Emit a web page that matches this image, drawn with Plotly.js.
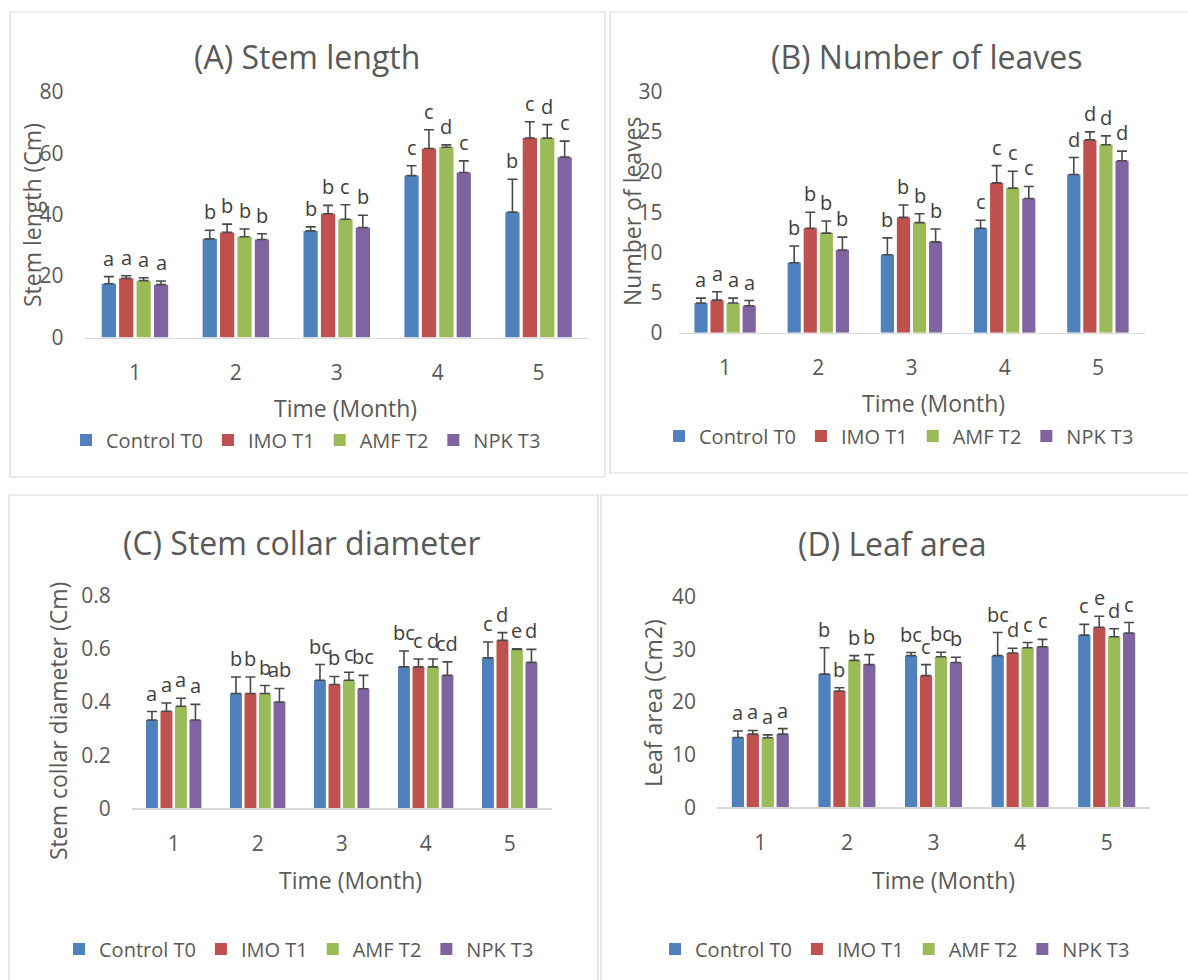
<!DOCTYPE html>
<html><head><meta charset="utf-8">
<script src="https://cdn.plot.ly/plotly-3.0.1.min.js"></script>
<style>html,body{margin:0;padding:0;background:#fff}#chart{width:1188px;height:980px}</style>
</head><body><div id="chart"></div>
<script>
// ---------- data ----------
const months = [1, 2, 3, 4, 5];
const seriesNames = ['Control T0', 'IMO T1', 'AMF T2', 'NPK T3'];

// (A) Stem length (Cm): means, SD, letters
const stemControl = [17.5, 32.1, 34.7, 52.7, 40.8];
const stemIMO     = [19.25, 34.2, 40.3, 61.5, 64.9];
const stemAMF     = [18.5, 32.8, 38.5, 61.9, 64.9];
const stemNPK     = [17.2, 31.9, 35.8, 53.7, 58.7];
const stemControlSd = [2.3, 2.8, 1.3, 3.2, 10.7];
const stemIMOSd     = [0.85, 2.7, 2.7, 6.1, 5.3];
const stemAMFSd     = [0.95, 2.5, 4.7, 0.8, 4.4];
const stemNPKSd     = [1.2, 1.85, 4.0, 3.8, 5.2];
const stemControlLet = ['a', 'b', 'b', 'c', 'b'];
const stemIMOLet     = ['a', 'b', 'b', 'c', 'c'];
const stemAMFLet     = ['a', 'b', 'c', 'd', 'd'];
const stemNPKLet     = ['a', 'b', 'b', 'c', 'c'];

// (B) Number of leaves
const leavesControl = [3.7, 8.7, 9.7, 13.0, 19.7];
const leavesIMO     = [4.05, 13.0, 14.35, 18.65, 24.0];
const leavesAMF     = [3.7, 12.4, 13.7, 18.0, 23.4];
const leavesNPK     = [3.35, 10.3, 11.3, 16.7, 21.4];
const leavesControlSd = [0.6, 2.1, 2.1, 1.0, 2.1];
const leavesIMOSd     = [1.05, 2.0, 1.55, 2.15, 1.0];
const leavesAMFSd     = [0.6, 1.5, 1.1, 2.1, 1.1];
const leavesNPKSd     = [0.65, 1.6, 1.6, 1.5, 1.2];
const leavesControlLet = ['a', 'b', 'b', 'c', 'd'];
const leavesIMOLet     = ['a', 'b', 'b', 'c', 'd'];
const leavesAMFLet     = ['a', 'b', 'b', 'c', 'd'];
const leavesNPKLet     = ['a', 'b', 'b', 'c', 'd'];

// (C) Stem collar diameter (Cm)
const collarControl = [0.332, 0.432, 0.482, 0.532, 0.566];
const collarIMO     = [0.365, 0.432, 0.466, 0.532, 0.632];
const collarAMF     = [0.384, 0.432, 0.482, 0.532, 0.598];
const collarNPK     = [0.332, 0.400, 0.450, 0.500, 0.549];
const collarControlSd = [0.032, 0.062, 0.059, 0.060, 0.060];
const collarIMOSd     = [0.031, 0.062, 0.030, 0.030, 0.029];
const collarAMFSd     = [0.030, 0.030, 0.030, 0.030, 0.002];
const collarNPKSd     = [0.059, 0.051, 0.050, 0.051, 0.049];
const collarControlLet = ['a', 'b', 'bc', 'bc', 'c'];
const collarIMOLet     = ['a', 'b', 'b', 'c', 'd'];
const collarAMFLet     = ['a', 'b', 'c', 'd', 'e'];
const collarNPKLet     = ['a', 'ab', 'bc', 'cd', 'd'];

// (D) Leaf area (Cm2)
const areaControl = [13.25, 25.3, 28.8, 28.8, 32.7];
const areaIMO     = [13.9, 22.1, 25.0, 29.3, 34.2];
const areaAMF     = [13.2, 27.9, 28.6, 30.3, 32.4];
const areaNPK     = [13.9, 27.1, 27.5, 30.5, 33.1];
const areaControlSd = [1.25, 5.0, 0.6, 4.4, 2.05];
const areaIMOSd     = [0.7, 0.6, 2.1, 0.9, 2.1];
const areaAMFSd     = [0.55, 0.9, 0.85, 1.0, 1.5];
const areaNPKSd     = [1.05, 1.9, 1.0, 1.4, 2.0];
const areaControlLet = ['a', 'b', 'bc', 'bc', 'c'];
const areaIMOLet     = ['a', 'b', 'c', 'd', 'e'];
const areaAMFLet     = ['a', 'b', 'bc', 'c', 'd'];
const areaNPKLet     = ['a', 'b', 'b', 'c', 'c'];

// ---------- styling / layout ----------
const W = 1188, H = 980;
const colors = ['#4F81BD', '#C0504D', '#9BBB59', '#8064A2'];
const FONT = 'Open Sans, Noto Sans, sans-serif';
const TXT = '#595959';
const px = v => v / W;
const py = v => 1 - v / H;
const BARGAP = 0.31;

const panels = [
  { title: '(A) Stem length', ytitle: 'Stem length (Cm)',
    means: [stemControl, stemIMO, stemAMF, stemNPK],
    sds: [stemControlSd, stemIMOSd, stemAMFSd, stemNPKSd],
    lets: [stemControlLet, stemIMOLet, stemAMFLet, stemNPKLet],
    yr: [0, 80], dtick: 20,
    box: [10, 12, 605, 477], plotX: [84.5, 589], plotY: [337.5, 91.7],
    titlePos: [307, 56], yTitlePos: [32, 215], xTitlePos: [345, 408], legendPos: [66, 440],
    yStandoff: 20 },
  { title: '(B) Number of leaves', ytitle: 'Number of leaves',
    means: [leavesControl, leavesIMO, leavesAMF, leavesNPK],
    sds: [leavesControlSd, leavesIMOSd, leavesAMFSd, leavesNPKSd],
    lets: [leavesControlLet, leavesIMOLet, leavesAMFLet, leavesNPKLet],
    yr: [0, 30], dtick: 5,
    box: [610, 12, 1200, 473], plotX: [678.5, 1144.5], plotY: [332.7, 91.7],
    titlePos: [927, 56], yTitlePos: [632, 211], xTitlePos: [933, 403], legendPos: [659, 436],
    yStandoff: 15 },
  { title: '(C) Stem collar diameter', ytitle: 'Stem collar diameter (Cm)',
    means: [collarControl, collarIMO, collarAMF, collarNPK],
    sds: [collarControlSd, collarIMOSd, collarAMFSd, collarNPKSd],
    lets: [collarControlLet, collarIMOLet, collarAMFLet, collarNPKLet],
    yr: [0, 0.8], dtick: 0.2,
    box: [9, 495, 598, 1000], plotX: [131.7, 551.7], plotY: [808.3, 595.7],
    titlePos: [302, 542], yTitlePos: [58, 721], xTitlePos: [350, 880], legendPos: [59, 949],
    yStandoff: 20 },
  { title: '(D) Leaf area', ytitle: 'Leaf area (Cm2)',
    means: [areaControl, areaIMO, areaAMF, areaNPK],
    sds: [areaControlSd, areaIMOSd, areaAMFSd, areaNPKSd],
    lets: [areaControlLet, areaIMOLet, areaAMFLet, areaNPKLet],
    yr: [0, 40], dtick: 10,
    box: [601, 495, 1200, 1000], plotX: [717, 1150], plotY: [807.3, 596.7],
    titlePos: [892, 543], yTitlePos: [653, 703], xTitlePos: [943, 880], legendPos: [655, 949],
    yStandoff: 20 }
];

const traces = [];
const annotations = [];
const shapes = [];
const layout = {
  width: W, height: H,
  margin: { l: 0, r: 0, t: 0, b: 0 },
  paper_bgcolor: '#ffffff', plot_bgcolor: 'rgba(0,0,0,0)',
  barmode: 'group', bargap: BARGAP, bargroupgap: 0.18,
  font: { family: FONT, color: TXT },
  showlegend: true
};

panels.forEach((p, k) => {
  const ax = k === 0 ? '' : String(k + 1);
  const xa = 'x' + ax, ya = 'y' + ax;
  const lg = 'legend' + ax;
  const n = seriesNames.length;
  const slot = (1 - BARGAP) / n;

  seriesNames.forEach((name, i) => {
    traces.push({
      type: 'bar', name: name, x: months, y: p.means[i],
      xaxis: xa, yaxis: ya, legend: lg,
      marker: { color: colors[i], line: { width: 0 } },
      error_y: { type: 'data', symmetric: false, array: p.sds[i],
                 arrayminus: months.map(() => 0), color: '#4a4a4a', thickness: 1.6, width: 5 },
      hoverinfo: 'skip'
    });
    const off = (i - (n - 1) / 2) * slot;
    months.forEach((m, j) => {
      annotations.push({
        xref: xa, yref: ya, x: m + off, y: p.means[i][j] + p.sds[i][j],
        text: p.lets[i][j], showarrow: false, yanchor: 'bottom', yshift: 3,
        font: { family: FONT, size: 20, color: '#404040' }
      });
    });
  });

  layout['xaxis' + ax] = {
    domain: [px(p.plotX[0]), px(p.plotX[1])], anchor: ya,
    range: [0.5, 5.5], tickvals: months, ticktext: months.map(String),
    showline: true, linecolor: '#D9D9D9', linewidth: 1.5,
    ticks: '', showgrid: false, zeroline: false, fixedrange: true,
    tickfont: { family: FONT, size: 21, color: TXT }, ticklabelstandoff: 16
  };
  layout['yaxis' + ax] = {
    domain: [py(p.plotY[0]), py(p.plotY[1])], anchor: xa,
    range: p.yr, dtick: p.dtick, tick0: 0,
    showline: false, ticks: '', showgrid: false, zeroline: false, fixedrange: true,
    tickfont: { family: FONT, size: 21, color: TXT }, ticklabelstandoff: p.yStandoff
  };
  layout[lg] = {
    orientation: 'h', xanchor: 'left', yanchor: 'middle',
    x: px(p.legendPos[0]), y: py(p.legendPos[1]),
    font: { family: FONT, size: 20, color: TXT },
    bgcolor: 'rgba(0,0,0,0)', itemclick: false, itemdoubleclick: false
  };

  // panel title
  annotations.push({ xref: 'paper', yref: 'paper', x: px(p.titlePos[0]), y: py(p.titlePos[1]),
    xanchor: 'center', yanchor: 'middle', text: p.title, showarrow: false,
    font: { family: FONT, size: 32, color: TXT } });
  // y-axis title
  annotations.push({ xref: 'paper', yref: 'paper', x: px(p.yTitlePos[0]), y: py(p.yTitlePos[1]),
    xanchor: 'center', yanchor: 'middle', text: p.ytitle, textangle: -90, showarrow: false,
    font: { family: FONT, size: 23, color: TXT } });
  // x-axis title
  annotations.push({ xref: 'paper', yref: 'paper', x: px(p.xTitlePos[0]), y: py(p.xTitlePos[1]),
    xanchor: 'center', yanchor: 'middle', text: 'Time (Month)', showarrow: false,
    font: { family: FONT, size: 23, color: TXT } });
  // panel border
  shapes.push({ type: 'rect', xref: 'paper', yref: 'paper',
    x0: px(p.box[0]), x1: px(p.box[2]), y0: py(p.box[3]), y1: py(p.box[1]),
    line: { color: '#D9D9D9', width: 1.2 }, fillcolor: 'rgba(0,0,0,0)', layer: 'below' });
});

layout.annotations = annotations;
layout.shapes = shapes;

Plotly.newPlot('chart', traces, layout, { displayModeBar: false, staticPlot: true });
</script>
</body></html>
